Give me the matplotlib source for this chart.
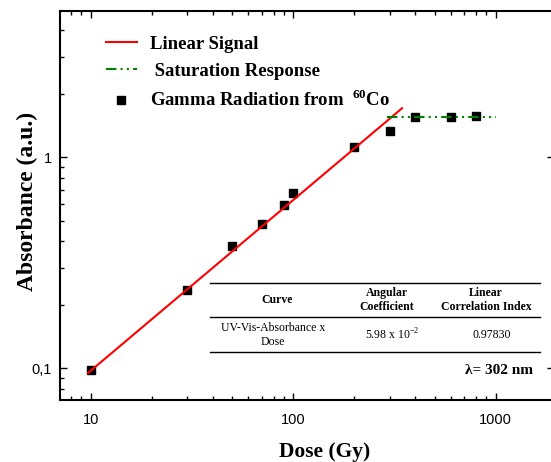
import matplotlib
matplotlib.use("Agg")
import matplotlib.pyplot as plt
from matplotlib.ticker import FixedLocator, FixedFormatter, LogLocator, NullFormatter

# dados
dose = [10, 30, 50, 70, 90, 100, 200, 300, 400, 600, 800]
absorb = [0.098, 0.235, 0.381, 0.483, 0.592, 0.675, 1.12, 1.34, 1.56, 1.56, 1.57]

lin_x = [9.7, 345]
lin_y = [0.095, 1.71]
sat_x = [289, 1000]
sat_y = [1.56, 1.56]

table_head = ["Curve", "Angular\nCoefficient", "Linear\nCorrelation Index"]
table_row = ["UV-Vis-Absorbance x\nDose", "5.98 x 10$^{\\mathregular{-2}}$", "0.97830"]

plt.rcParams["font.family"] = ["Liberation Serif", "DejaVu Serif"]
plt.rcParams["mathtext.fontset"] = "custom"
plt.rcParams["mathtext.rm"] = "Liberation Serif"
plt.rcParams["mathtext.bf"] = "Liberation Serif:bold"

W, H = 551, 462
L, R, T, B = 60, 554, 11, 400

fig = plt.figure(figsize=(W / 100, H / 100), dpi=100)
ax = fig.add_axes([L / W, (H - B) / H, (R - L) / W, (B - T) / H])

ax.plot(lin_x, lin_y, color="red", lw=1.5, label="Linear Signal", zorder=3)
ax.plot(sat_x, sat_y, color="green", lw=1.5, ls=(0, (5, 2, 1, 2, 1, 2)),
        label=" Saturation Response", zorder=3)
ax.plot(dose, absorb, ls="none", marker="s", ms=6, color="black",
        label="Gamma Radiation from  $^{\\mathbf{60}}$Co", zorder=2)

ax.set_xscale("log")
ax.set_yscale("log")
ax.set_xlim(7.06, 1940)
ax.set_ylim(0.0708, 4.94)

ax.xaxis.set_major_locator(FixedLocator([10, 100, 1000]))
ax.xaxis.set_major_formatter(FixedFormatter(["10", "100", "1000"]))
ax.yaxis.set_major_locator(FixedLocator([0.1, 1]))
ax.yaxis.set_major_formatter(FixedFormatter(["0,1", "1"]))
ax.xaxis.set_minor_locator(LogLocator(base=10, subs=range(2, 10)))
ax.yaxis.set_minor_locator(LogLocator(base=10, subs=range(2, 10)))
ax.xaxis.set_minor_formatter(NullFormatter())
ax.yaxis.set_minor_formatter(NullFormatter())

ax.tick_params(which="both", direction="in", top=True, right=True, width=1.0)
ax.tick_params(which="major", length=5, labelsize=10.5)
ax.tick_params(axis="x", which="major", pad=9)
ax.tick_params(axis="y", which="major", pad=6)
ax.tick_params(which="minor", length=3, right=False)
for lab in ax.get_xticklabels() + ax.get_yticklabels():
    lab.set_family("Liberation Sans")
for sp in ax.spines.values():
    sp.set_linewidth(1.5)

ax.set_xlabel("Dose (Gy)", fontsize=15.5, fontweight="bold", va="center")
ax.xaxis.set_label_coords((325 - L) / (R - L), (B - 452) / (B - T))
ax.set_ylabel("Absorbance (a.u.)", fontsize=17, fontweight="bold", va="center")
ax.yaxis.set_label_coords((27 - L) / (R - L), (B - 201) / (B - T))

leg = ax.legend(loc="upper left", bbox_to_anchor=(0.058, 0.98), frameon=False,
                prop={"family": "Liberation Serif", "weight": "bold", "size": 13.5},
                handlelength=1.7, handletextpad=0.65, labelspacing=0.52)

# tabela desenhada com linhas e textos
tr = ax.transAxes
def fx(px):
    return (px - L) / (R - L)
def fy(py):
    return (B - py) / (B - T)

for py in [283, 317, 352]:
    ax.plot([fx(210), fx(540)], [fy(py), fy(py)], transform=tr, color="black",
            lw=1.0, clip_on=False)

col_x = [fx(277), fx(387), fx(486)]
for cx, txt in zip(col_x, table_head):
    ax.text(cx, fy(300), txt, transform=tr, ha="center", va="center",
            fontsize=8.5, fontweight="bold", linespacing=1.3)
row_x = [fx(273), fx(392), fx(492)]
for cx, txt in zip(row_x, table_row):
    ax.text(cx, fy(335), txt, transform=tr, ha="center", va="center",
            fontsize=8.5, linespacing=1.3)

ax.text(fx(533), fy(370), "\u03bb= 302 nm", transform=tr, ha="right", va="center",
        fontsize=11, fontweight="bold")

fig.savefig("out.png", dpi=100)
